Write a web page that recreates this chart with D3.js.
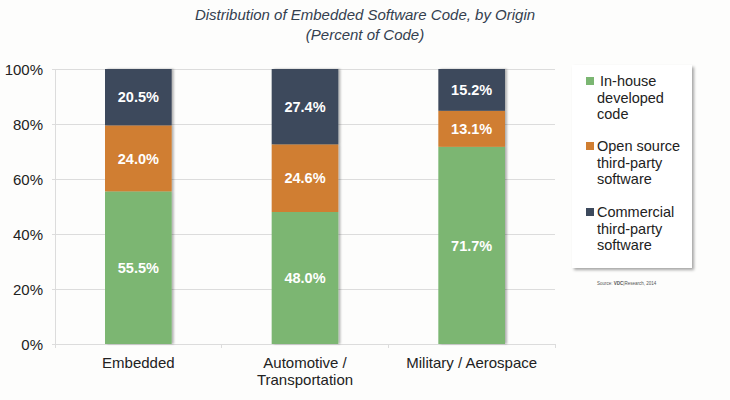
<!DOCTYPE html>
<html><head><meta charset="utf-8">
<script src="https://cdn.jsdelivr.net/npm/d3@7"></script>
<style>body{margin:0;background:#fdfdfc;}svg{display:block;font-family:"Liberation Sans",Arial,sans-serif;}</style>
</head><body><svg id="c" width="730" height="400"></svg>
<script>
const categories = [["Embedded"], ["Automotive /", "Transportation"], ["Military / Aerospace"]];
const seriesNames = [["In-house", "developed", "code"], ["Open source", "third-party", "software"], ["Commercial", "third-party", "software"]];
const inHouse = [55.5, 48.0, 71.7];
const openSource = [24.0, 24.6, 13.1];
const commercial = [20.5, 27.4, 15.2];
const yTicks = [0, 20, 40, 60, 80, 100];
const colors = ["#7bb672", "#d07e32", "#3c495c"];

const svg = d3.select("#c");
const m = {l: 55, r: 555, t: 69, b: 344};
const x = d3.scaleBand().domain(d3.range(categories.length)).range([m.l, m.r]).paddingInner(0).paddingOuter(0);
const y = d3.scaleLinear().domain([0, 100]).range([m.b, m.t]);

const defs = svg.append("defs");
const f = defs.append("filter").attr("id", "sh").attr("x", "-20%").attr("y", "-20%").attr("width", "150%").attr("height", "150%");
f.append("feDropShadow").attr("dx", 2).attr("dy", 2).attr("stdDeviation", 1.5).attr("flood-color", "#000").attr("flood-opacity", 0.35);
const f2 = defs.append("filter").attr("id", "sh2").attr("x", "-20%").attr("y", "-5%").attr("width", "150%").attr("height", "110%");
f2.append("feDropShadow").attr("dx", 2).attr("dy", 0).attr("stdDeviation", 1.2).attr("flood-color", "#000").attr("flood-opacity", 0.3);

// title
const title = svg.append("text").attr("x", 365).attr("text-anchor", "middle").attr("font-style", "italic").attr("font-size", 15).attr("fill", "#34404f");
title.append("tspan").attr("x", 365).attr("y", 20).text("Distribution of Embedded Software Code, by Origin");
title.append("tspan").attr("x", 365).attr("y", 40).text("(Percent of Code)");

// grid
svg.append("g").selectAll("line").data(yTicks).join("line")
  .attr("x1", m.l - 3).attr("x2", m.r).attr("y1", d => y(d)).attr("y2", d => y(d))
  .attr("stroke", "#dcdcdc").attr("stroke-width", 1).attr("shape-rendering", "crispEdges");
svg.append("line").attr("x1", m.l).attr("x2", m.l).attr("y1", m.t).attr("y2", m.b + 4).attr("stroke", "#dcdcdc").attr("shape-rendering", "crispEdges");
// category dividers
svg.append("g").selectAll("line").data(d3.range(1, categories.length + 1)).join("line")
  .attr("x1", d => m.l + d * x.bandwidth()).attr("x2", d => m.l + d * x.bandwidth())
  .attr("y1", m.b).attr("y2", m.b + 4).attr("stroke", "#dcdcdc").attr("shape-rendering", "crispEdges");

// y labels
const ya = d3.axisLeft(y).tickValues(yTicks).tickFormat(d => d + "%").tickSize(0).tickPadding(12);
const yg = svg.append("g").attr("transform", `translate(${m.l},0)`).call(ya);
yg.select(".domain").remove();
yg.selectAll("text").attr("font-size", 15).attr("fill", "#222").attr("font-family", "Liberation Sans, Arial, sans-serif").attr("dy", "0.35em");

// stacked bars
const rows = categories.map((c, i) => ({i, v: [inHouse[i], openSource[i], commercial[i]]}));
const stack = d3.stack().keys([0, 1, 2]).value((d, k) => d.v[k]);
const layers = stack(rows);
const bw = x.bandwidth() * 0.4;
const barGroups = rows.map(() => svg.append("g").attr("filter", "url(#sh2)"));
layers.forEach((layer, k) => {
  layer.forEach(seg => {
    const cx = x(seg.data.i) + x.bandwidth() / 2;
    barGroups[seg.data.i].append("rect").attr("x", cx - bw / 2).attr("width", bw)
      .attr("y", y(Math.min(seg[1], 100))).attr("height", y(seg[0]) - y(Math.min(seg[1], 100)))
      .attr("fill", colors[k]);
  });
});
const gLab = svg.append("g");
layers.forEach((layer, k) => {
  layer.forEach(seg => {
    const cx = x(seg.data.i) + x.bandwidth() / 2;
    const mid = (y(seg[0]) + y(Math.min(seg[1], 100))) / 2;
    gLab.append("text").attr("x", cx).attr("y", mid).attr("dy", "0.36em").attr("text-anchor", "middle")
      .attr("font-size", 14.5).attr("font-weight", "bold").attr("fill", "#fff").text(seg.data.v[k].toFixed(1) + "%");
  });
});

// x labels
categories.forEach((lines, i) => {
  const t = svg.append("text").attr("text-anchor", "middle").attr("font-size", 15).attr("fill", "#222");
  lines.forEach((ln, j) => t.append("tspan").attr("x", x(i) + x.bandwidth() / 2).attr("y", 368 + j * 17).text(ln));
});

// legend
svg.append("rect").attr("x", 572).attr("y", 65).attr("width", 120).attr("height", 203).attr("fill", "#fff").attr("filter", "url(#sh)");
const ly = [81, 146, 212];
seriesNames.forEach((lines, k) => {
  svg.append("rect").attr("x", 586).attr("y", ly[k] - 4).attr("width", 8).attr("height", 8).attr("fill", colors[k]);
  const t = svg.append("text").attr("font-size", 14.5).attr("fill", "#222");
  lines.forEach((ln, j) => t.append("tspan").attr("x", k === 0 && j === 0 ? 600 : 597).attr("y", ly[k] + 5 + j * 16.7).text(ln));
});
// source
const src = svg.append("text").attr("x", 597).attr("y", 285).attr("font-size", 4.5).attr("fill", "#555");
src.append("tspan").text("Source: ");
src.append("tspan").attr("font-weight", "bold").text("VDC");
src.append("tspan").text("|Research, 2014");
</script></body></html>
